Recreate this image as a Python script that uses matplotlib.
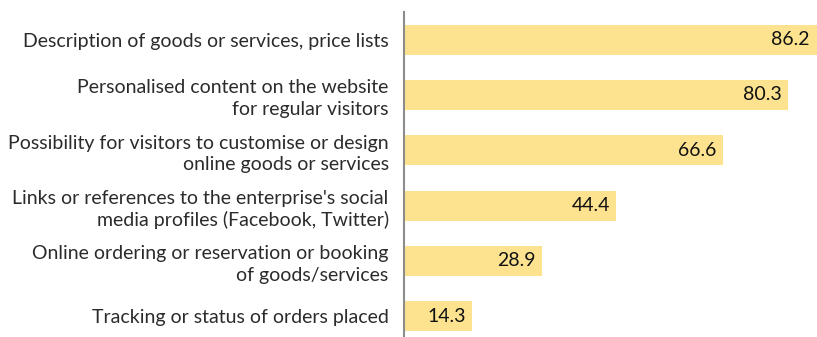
import matplotlib.pyplot as plt

# E-commerce website features used by enterprises (%)
categories = [
    "Description of goods or services, price lists",
    "Personalised content on the website\nfor regular visitors",
    "Possibility for visitors to customise or design\nonline goods or services",
    "Links or references to the enterprise's social\nmedia profiles (Facebook, Twitter)",
    "Online ordering or reservation or booking\nof goods/services",
    "Tracking or status of orders placed",
]
values = [86.2, 80.3, 66.6, 44.4, 28.9, 14.3]

W, H = 817, 337
fig = plt.figure(figsize=(W / 100, H / 100), dpi=100)
# axes run a little below the bottom edge of the figure
ax = fig.add_axes([404 / W, 1 - 344 / H, 1 - 404 / W, 332 / H])

pos = list(range(len(values)))
ax.barh(pos, values, height=0.54, color="#FDE38F", left=0)
ax.set_ylim(len(values) - 0.5, -0.5)
ax.set_xlim(0, 86.3)

for p, v in zip(pos, values):
    ax.text(v - 1.4, p, f"{v:.1f}", ha="right", va="center",
            fontsize=14, family="Lato", color="#111111")

ax.set_yticks(pos)
ax.set_yticklabels(categories, fontsize=14, family="Lato", color="#2b2b2b",
                   linespacing=1.3)
ax.tick_params(axis="y", length=0, pad=11)
ax.set_xticks([])
for s in ["top", "right", "bottom"]:
    ax.spines[s].set_visible(False)
ax.spines["left"].set_color("#8c8c8c")
ax.spines["left"].set_linewidth(1.5)

fig.savefig("out.png", dpi=100)
